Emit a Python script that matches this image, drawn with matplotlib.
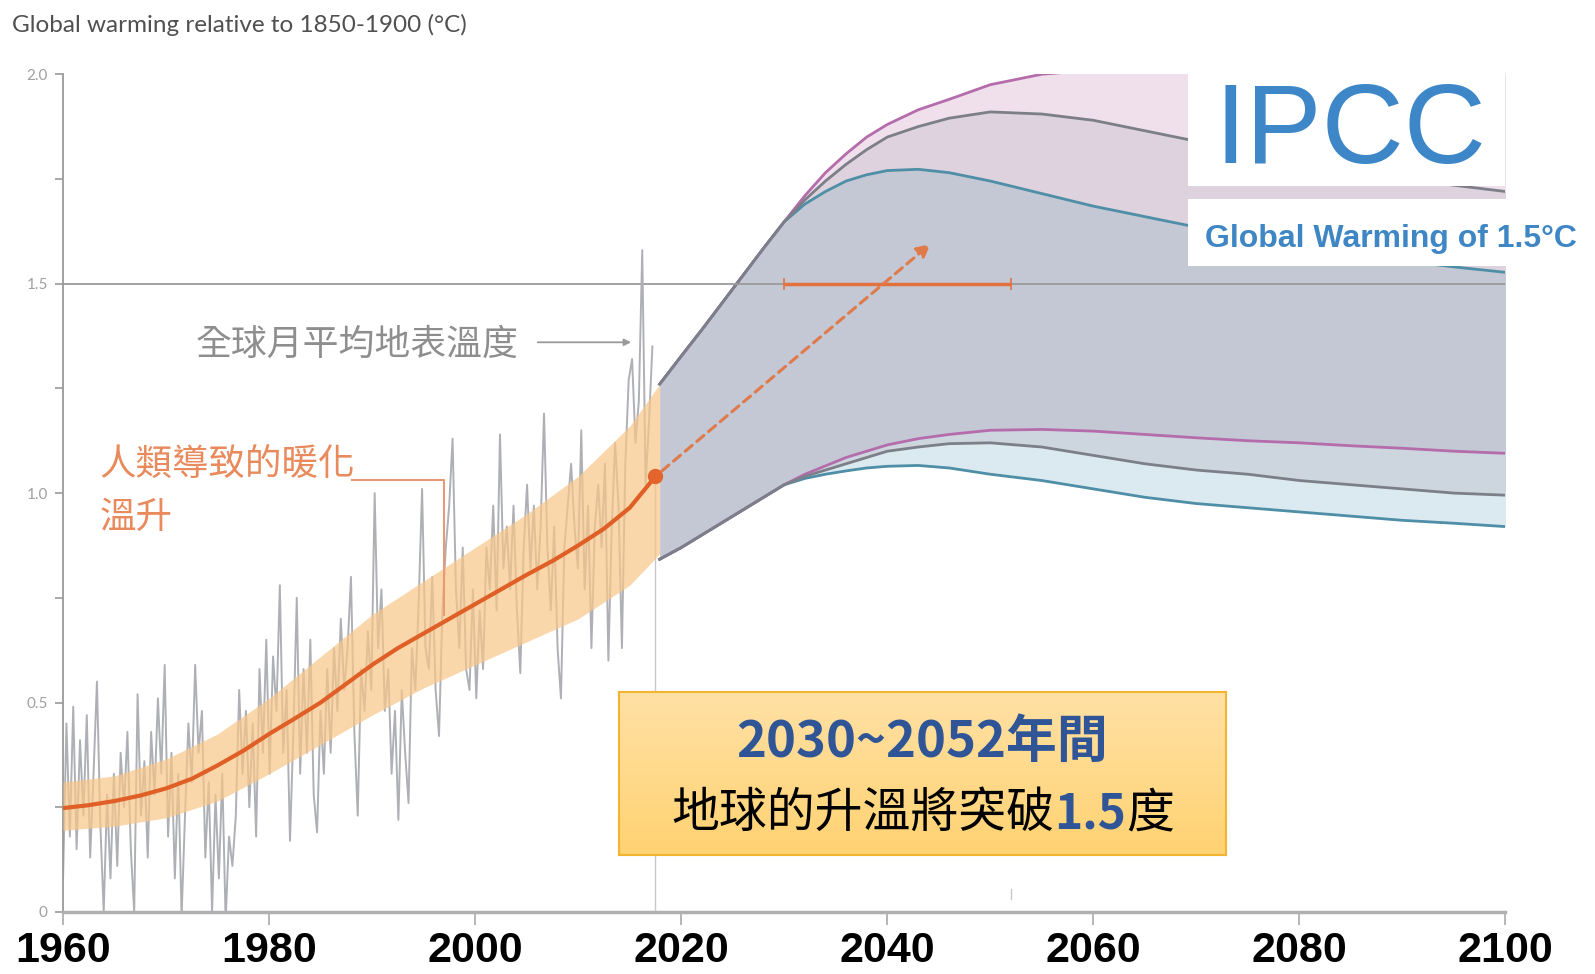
import numpy as np
import matplotlib.pyplot as plt
from matplotlib.patches import Rectangle
from matplotlib.colors import LinearSegmentedColormap

plt.rcParams['font.family'] = ['Noto Sans CJK TC', 'DejaVu Sans']

# 全球月平均地表溫度 (about three readings per year, 1960 -> 2017)
gray_vals = [
    0.08, 0.45, 0.18,  0.49, 0.15, 0.41,  0.23, 0.47, 0.13,  0.33, 0.55, 0.21,
    0.00, 0.28, 0.08,  0.33, 0.11, 0.38,  0.25, 0.43, 0.15,  0.00, 0.52, 0.23,
    0.36, 0.13, 0.43,  0.28, 0.51, 0.33,  0.59, 0.18, 0.38,  0.08, 0.33, -0.01,
    0.23, 0.45, 0.31,  0.59, 0.38, 0.48,  0.13, 0.31, 0.00,  0.28, 0.08, 0.33,
    -0.02, 0.18, 0.11,  0.23, 0.53, 0.33,  0.48, 0.25, 0.45,  0.18, 0.58, 0.38,
    0.65, 0.33, 0.61,  0.48, 0.78, 0.38,  0.53, 0.17, 0.43,  0.75, 0.33, 0.58,
    0.38, 0.65, 0.28,  0.19, 0.48, 0.33,  0.58, 0.38, 0.63,  0.48, 0.70, 0.53,
    0.63, 0.80, 0.43,  0.23, 0.58, 0.48,  0.67, 0.53, 1.00,  0.63, 0.77, 0.48,
    0.58, 0.33, 0.48,  0.22, 0.53, 0.38,  0.26, 0.63, 0.53,  0.74, 1.01, 0.63,
    0.58, 0.80, 0.53,  0.42, 0.72, 0.87,  0.97, 1.13, 0.77,  0.63, 0.87, 0.58,
    0.53, 0.77, 0.51,  0.72, 0.58, 0.87,  0.77, 0.97, 0.72,  1.14, 0.82, 0.92,
    0.77, 0.97, 0.72,  0.57, 0.87, 1.02,  0.82, 0.97, 0.77,  0.92, 1.19, 0.87,
    0.72, 0.92, 0.63,  0.51, 0.87, 0.97,  1.07, 0.92, 0.82,  1.15, 0.77, 0.97,
    0.63, 0.92, 1.02,  0.87, 1.07, 0.60,  0.92, 1.12, 0.97,  0.63, 1.07, 1.27,
    1.32, 1.12, 1.22,  1.58, 1.02, 1.17,  1.35,
]
gray_years = np.linspace(1960, 2017.2, len(gray_vals))

# 人類導致的暖化 (trend + likely range)
trend_years = [1960, 1962.5, 1965, 1967.5, 1970, 1972.5, 1975, 1977.5, 1980, 1982.5, 1985, 1987.5,
               1990, 1992.5, 1995, 1997.5, 2000, 2002.5, 2005, 2007.5, 2010, 2012.5, 2015, 2017.5]
trend_vals = [0.248, 0.255, 0.265, 0.278, 0.295, 0.318, 0.35, 0.385, 0.425, 0.462, 0.50, 0.545,
              0.59, 0.63, 0.665, 0.70, 0.735, 0.77, 0.805, 0.838, 0.875, 0.915, 0.965, 1.04]
band_years = [1960, 1965, 1970, 1975, 1980, 1985, 1990, 1995, 2000, 2005, 2010, 2015, 2017.9]
band_low = [0.195, 0.205, 0.225, 0.265, 0.33, 0.40, 0.47, 0.535, 0.59, 0.645, 0.70, 0.78, 0.855]
band_high = [0.31, 0.325, 0.365, 0.425, 0.51, 0.61, 0.71, 0.79, 0.87, 0.95, 1.04, 1.16, 1.26]

# projections
proj_years = [2017.9, 2020, 2022, 2024, 2026, 2028, 2030, 2032, 2034, 2036, 2038, 2040, 2043,
              2046, 2050, 2055, 2060, 2065, 2070, 2075, 2080, 2085, 2090, 2095, 2100]
purple_top = [1.26, 1.327, 1.39, 1.455, 1.52, 1.585, 1.648, 1.71, 1.765, 1.81, 1.85, 1.88, 1.915,
              1.94, 1.975, 2.00, 2.01, 2.01, 2.01, 2.01, 2.01, 2.01, 2.01, 2.01, 2.01]
gray_top = [1.26, 1.327, 1.39, 1.455, 1.52, 1.585, 1.648, 1.70, 1.745, 1.785, 1.82, 1.85, 1.875,
            1.895, 1.91, 1.905, 1.89, 1.865, 1.84, 1.815, 1.79, 1.77, 1.75, 1.735, 1.72]
teal_top = [1.26, 1.327, 1.39, 1.455, 1.52, 1.585, 1.648, 1.69, 1.72, 1.745, 1.76, 1.77, 1.773,
            1.765, 1.745, 1.715, 1.685, 1.66, 1.635, 1.615, 1.595, 1.575, 1.555, 1.54, 1.527]
purple_bot = [0.842, 0.87, 0.90, 0.93, 0.96, 0.99, 1.02, 1.045, 1.065, 1.085, 1.10, 1.115, 1.13,
              1.14, 1.15, 1.152, 1.148, 1.14, 1.132, 1.125, 1.12, 1.113, 1.107, 1.10, 1.095]
gray_bot = [0.842, 0.87, 0.90, 0.93, 0.96, 0.99, 1.02, 1.04, 1.055, 1.07, 1.085, 1.10, 1.11,
            1.118, 1.12, 1.11, 1.09, 1.07, 1.055, 1.045, 1.03, 1.02, 1.01, 1.0, 0.995]
teal_bot = [0.842, 0.87, 0.90, 0.93, 0.96, 0.99, 1.02, 1.035, 1.045, 1.053, 1.06, 1.064, 1.066,
            1.06, 1.045, 1.03, 1.01, 0.99, 0.975, 0.965, 0.955, 0.945, 0.935, 0.928, 0.92]

x_ticks = [1960, 1980, 2000, 2020, 2040, 2060, 2080, 2100]
y_ticks = [0, 0.5, 1.0, 1.5, 2.0]
y_labels = ['0', '0.5', '1.0', '1.5', '2.0']
range_start, range_end = 2030, 2052
now_year, now_val = 2017.5, 1.04
arrow_end = (2044.2, 1.595)

# layout measured on a 1568 x 958 view of the reference
W, H = 1568, 958

fig = plt.figure(figsize=(15.95, 9.74), dpi=100)
ax = fig.add_axes([62/W, 1-897/H, (1480-62)/W, (897-73)/H])
ax.set_xlim(1960, 2100)
ax.set_ylim(0, 2.0)

# 預估範圍
ax.fill_between(proj_years, gray_top, purple_top, color='#F0E0EC', lw=0, zorder=1)
ax.fill_between(proj_years, teal_top, gray_top, color='#DDD2DD', lw=0, zorder=1)
ax.fill_between(proj_years, purple_bot, teal_top, color='#C3C8D4', lw=0, zorder=1)
ax.fill_between(proj_years, gray_bot, purple_bot, color='#CDD6DF', lw=0, zorder=1)
ax.fill_between(proj_years, teal_bot, gray_bot, color='#DBEAF0', lw=0, zorder=1)
for top, bot, c in [(teal_top, teal_bot, '#4E8EA6'), (purple_top, purple_bot, '#B46CAB'),
                    (gray_top, gray_bot, '#7C7F88')]:
    ax.plot(proj_years, top, color=c, lw=2, zorder=2)
    ax.plot(proj_years, bot, color=c, lw=2, zorder=2)

ax.axhline(1.5, color='#9A9A9A', lw=1.3, zorder=2)

# 觀測 + 人類導致的暖化
ax.plot(gray_years, gray_vals, color='#AFB0B5', lw=1.4, zorder=2)
ax.fill_between(band_years, band_low, band_high, color='#F8C687', alpha=0.7, lw=0, zorder=3)
ax.plot(trend_years, trend_vals, color='#DF5F26', lw=3, zorder=4)
ax.plot([now_year, now_year], [0, now_val], color='#C8C8C8', lw=1, zorder=2)
ax.plot([now_year], [now_val], 'o', color='#E3652B', ms=10, zorder=5)
ax.annotate('', xy=arrow_end, xytext=(now_year, now_val),
            arrowprops=dict(arrowstyle='-|>', ls=(0, (3, 2)), color='#E07A4A', lw=2.2,
                            mutation_scale=20, shrinkA=6, shrinkB=0), zorder=5)
ax.errorbar([(range_start + range_end) / 2], [1.5], xerr=[[(range_end - range_start) / 2]],
            fmt='none', ecolor='#E2733F', elinewidth=2.5, capsize=4, capthick=1.2, zorder=4)
ax.plot([2052, 2052], [0.03, 0.055], color='#C8C8C8', lw=1, zorder=2)

# annotations
ax.text(2004.2, 1.355, '全球月平均地表溫度', ha='right', va='center', fontsize=25.8, color='#8E8E8E')
ax.annotate('', xy=(2015.4, 1.36), xytext=(2005.8, 1.36),
            arrowprops=dict(arrowstyle='-|>', color='#9A9A9A', lw=1.3, mutation_scale=10))
ax.text(1963.5, 1.068, '人類導致的暖化', ha='left', va='center', fontsize=26.3, color='#E88A5C')
ax.text(1963.5, 0.94, '溫升', ha='left', va='center', fontsize=26.3, color='#E88A5C')
ax.plot([1988, 1997, 1997], [1.032, 1.032, 0.71], color='#E89A78', lw=1.5, zorder=4)

# axes styling
for s in ['top', 'right']:
    ax.spines[s].set_visible(False)
ax.spines['left'].set_color('#999999')
ax.spines['left'].set_linewidth(1.3)
ax.spines['bottom'].set_color('#B0B0B0')
ax.spines['bottom'].set_linewidth(2.5)
ax.set_yticks(y_ticks)
ax.set_yticklabels(y_labels, fontsize=11, color='#A0A0A0', family=['Lato', 'DejaVu Sans'])
ax.set_yticks([0.25, 0.75, 1.25, 1.75], minor=True)
ax.tick_params(axis='y', which='both', length=6, width=1.2, color='#999999', pad=5)
ax.set_xticks(x_ticks)
ax.set_xticklabels([str(t) for t in x_ticks], fontsize=31, fontweight='bold', color='black',
                   family=['Liberation Sans', 'DejaVu Sans'])
ax.tick_params(axis='x', length=9, width=1.2, color='#AAAAAA', pad=5)

fig.text(12/W, 1-25/H, 'Global warming relative to 1850-1900 (°C)', va='center', ha='left',
         fontsize=17.5, color='#505050', family=['Lato', 'DejaVu Sans'])

# IPCC logo area
fig.add_artist(Rectangle((1168/W, 1-183/H), 312/W, 143/H, transform=fig.transFigure,
                         facecolor='white', edgecolor='none', zorder=6))
fig.add_artist(Rectangle((1168/W, 1-262/H), 400/W, 66/H, transform=fig.transFigure,
                         facecolor='white', edgecolor='none', zorder=6))
fig.text(1328/W, 1-160/H, 'IPCC', ha='center', va='baseline', fontsize=82, color='#3D87C9',
         family=['Liberation Sans', 'DejaVu Sans'], zorder=7)
fig.text(1185/W, 1-243/H, 'Global Warming of 1.5°C', ha='left', va='baseline', fontsize=23,
         fontweight='bold', color='#3F86C5', family=['Liberation Sans', 'DejaVu Sans'], zorder=7)

# yellow box
axb = fig.add_axes([609/W, 1-841/H, 596/W, 160/H], zorder=10)
grad = np.linspace(0, 1, 100).reshape(-1, 1)
axb.imshow(grad, aspect='auto', extent=[0, 1, 0, 1], origin='upper',
           cmap=LinearSegmentedColormap.from_list('box', ['#FFE1A5', '#FFD272']))
axb.set_xlim(0, 1)
axb.set_ylim(0, 1)
axb.set_xticks([])
axb.set_yticks([])
for s in axb.spines.values():
    s.set_color('#F2B431')
    s.set_linewidth(1.5)
axb.text(0.5, (841-730)/160, '2030~2052年間', ha='center', va='center', fontsize=36.6,
         fontweight='bold', color='#2F5597')
t1 = axb.text((660-609)/596, (841-800)/160, '地球的升溫將突破', ha='left', va='center',
              fontsize=34.5, color='black')
t2 = axb.annotate('1.5', xy=(1, 0), xycoords=t1, ha='left', va='bottom', fontsize=34.5,
                  fontweight='bold', color='#2F5597')
axb.annotate('度', xy=(1, 0), xycoords=t2, ha='left', va='bottom', fontsize=34.5, color='black')

fig.savefig('out.png', dpi=100)
